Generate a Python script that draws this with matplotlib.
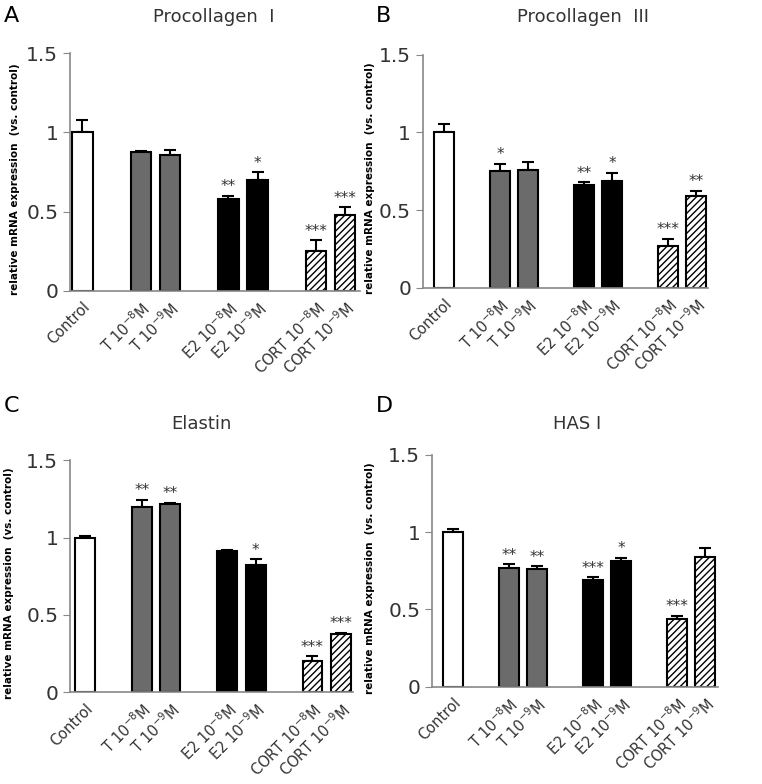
import numpy as np
import matplotlib
matplotlib.use('Agg')
import matplotlib.pyplot as plt

# treatments (shared by all panels)
labels = ['Control', 'T 10$^{-8}$M', 'T 10$^{-9}$M', 'E2 10$^{-8}$M', 'E2 10$^{-9}$M',
          'CORT 10$^{-8}$M', 'CORT 10$^{-9}$M']
positions = [0, 2, 3, 5, 6, 8, 9]

# panel data
titles = ['Procollagen  I', 'Procollagen  III', 'Elastin', 'HAS I']
letters = ['A', 'B', 'C', 'D']

procol1_mean = [1.00, 0.88, 0.86, 0.58, 0.70, 0.25, 0.48]
procol1_err = [0.08, 0.005, 0.03, 0.02, 0.05, 0.07, 0.05]
procol1_sig = ['', '', '', '**', '*', '***', '***']

procol3_mean = [1.00, 0.75, 0.76, 0.66, 0.69, 0.27, 0.59]
procol3_err = [0.055, 0.05, 0.05, 0.02, 0.05, 0.045, 0.035]
procol3_sig = ['', '*', '', '**', '*', '***', '**']

elastin_mean = [1.00, 1.20, 1.22, 0.91, 0.82, 0.20, 0.377]
elastin_err = [0.008, 0.044, 0.006, 0.007, 0.04, 0.032, 0.007]
elastin_sig = ['', '**', '**', '', '*', '***', '***']

has1_mean = [1.00, 0.77, 0.76, 0.69, 0.81, 0.44, 0.84]
has1_err = [0.02, 0.023, 0.02, 0.02, 0.025, 0.02, 0.055]
has1_sig = ['', '**', '**', '***', '*', '***', '']

means = [procol1_mean, procol3_mean, elastin_mean, has1_mean]
errs = [procol1_err, procol3_err, elastin_err, has1_err]
sigs = [procol1_sig, procol3_sig, elastin_sig, has1_sig]

fills = ['white', '#6b6b6b', '#6b6b6b', 'black', 'black', 'white', 'white']
hatches = [None, None, None, None, None, '/////', '/////']

# axes boxes in figure fractions [left, bottom, width, height]
boxes = [[0.092, 0.629, 0.381, 0.303],
         [0.555, 0.633, 0.374, 0.297],
         [0.092, 0.117, 0.371, 0.296],
         [0.567, 0.124, 0.375, 0.296]]
xlims = [(-0.42, 9.52), (-0.75, 9.43), (-0.53, 9.42), (-0.75, 9.45)]
ylabel_x = [-0.172, -0.168, -0.2, -0.2]
letter_xy = [(0.005, 0.992), (0.493, 0.992), (0.005, 0.495), (0.493, 0.495)]
title_xy = [(0.28, 0.99), (0.765, 0.99), (0.265, 0.471), (0.757, 0.471)]

plt.rcParams['hatch.linewidth'] = 1.0
fig = plt.figure(figsize=(7.62, 7.84), dpi=100)

for i in range(4):
    ax = fig.add_axes(boxes[i])
    m = np.array(means[i])
    e = np.array(errs[i])
    for j in range(len(positions)):
        ax.bar(positions[j], m[j], width=0.7, color=fills[j], edgecolor='black',
               linewidth=1.5, hatch=hatches[j], zorder=2)
    ax.errorbar(positions, m, yerr=[np.zeros_like(e), e], fmt='none', ecolor='black',
                elinewidth=1.5, capsize=4, capthick=1.5, zorder=1)
    for j, s in enumerate(sigs[i]):
        if s:
            ax.annotate(s, (positions[j], m[j] + e[j]), xytext=(0, 1),
                        textcoords='offset points', ha='center', va='bottom',
                        fontsize=11, color='#333333')
    ax.set_xlim(*xlims[i])
    ax.set_ylim(0, 1.5)
    ax.set_yticks([0, 0.5, 1, 1.5])
    ax.set_yticklabels(['0', '0.5', '1', '1.5'], fontsize=14.5, color='#333333')
    ax.set_xticks(positions)
    ax.set_xticklabels(labels, rotation=45, ha='right', rotation_mode='anchor',
                       fontsize=10.5, color='#333333')
    ax.tick_params(axis='x', length=0, pad=6)
    ax.tick_params(axis='y', length=5, color='#888888', direction='out')
    for side in ['top', 'right']:
        ax.spines[side].set_visible(False)
    for side in ['left', 'bottom']:
        ax.spines[side].set_color('#888888')
        ax.spines[side].set_linewidth(1.2)
    ax.set_ylabel('relative mRNA expression  (vs. control)', fontsize=7.5,
                  fontweight='bold')
    ax.yaxis.set_label_coords(ylabel_x[i], 0.47)
    fig.text(letter_xy[i][0], letter_xy[i][1], letters[i], fontsize=16,
             ha='left', va='top')
    fig.text(title_xy[i][0], title_xy[i][1], titles[i], fontsize=13,
             ha='center', va='top', color='#333333')

fig.savefig('out.png', dpi=100)
